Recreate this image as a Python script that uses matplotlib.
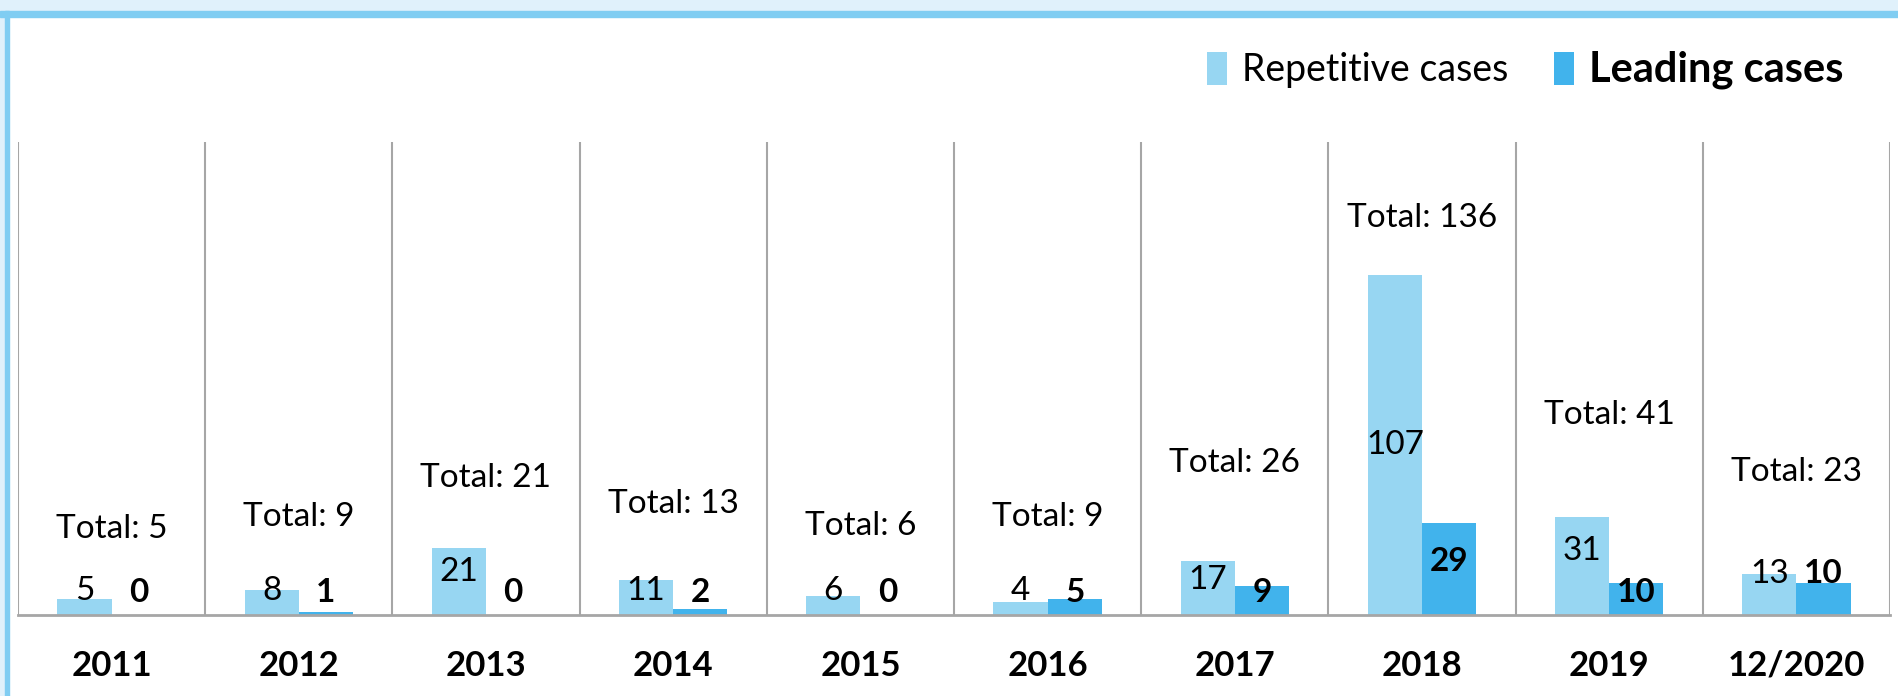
import numpy as np
import matplotlib.pyplot as plt
from matplotlib.patches import Rectangle

plt.rcParams["font.family"] = ["Lato", "DejaVu Sans"]

years = ["2011", "2012", "2013", "2014", "2015", "2016", "2017", "2018", "2019", "12/2020"]
repetitive = [5, 8, 21, 11, 6, 4, 17, 107, 31, 13]
leading = [0, 1, 0, 2, 0, 5, 9, 29, 10, 10]
totals = [5, 9, 21, 13, 6, 9, 26, 136, 41, 23]

c_rep = "#97d6f2"
c_lead = "#41b3ec"
grid_c = "#a6a6a6"
fs = 24

fig = plt.figure(figsize=(18.99, 6.96), dpi=100)
fig.patch.set_facecolor("white")

# frame like the original slide box
fig.patches.append(Rectangle((0, 1 - 11 / 696), 1, 11 / 696, transform=fig.transFigure,
                             color="#e0f1fb", zorder=-2))
fig.patches.append(Rectangle((0, 1 - 17 / 696), 1, 6 / 696, transform=fig.transFigure,
                             color="#80cdf2", zorder=-1))
fig.patches.append(Rectangle((0, 0), 5 / 1899, 1, transform=fig.transFigure,
                             color="#e0f1fb", zorder=-2))
fig.patches.append(Rectangle((5 / 1899, 0), 4 / 1899, 1 - 11 / 696, transform=fig.transFigure,
                             color="#80cdf2", zorder=-1))

ax = fig.add_axes([18 / 1899, 1 - 615 / 696, (1890 - 18) / 1899, (615 - 142) / 696])
x = np.arange(len(years))
w = 0.29
b1 = ax.bar(x - w / 2, repetitive, w, color=c_rep, label="Repetitive cases", zorder=2)
b2 = ax.bar(x + w / 2, leading, w, color=c_lead, label="Leading cases", zorder=2)

ax.set_xlim(-0.5, len(years) - 0.5)
ax.set_ylim(0, 149)
for xv in np.arange(-0.5, len(years), 1.0):
    ax.axvline(xv, color=grid_c, lw=1.5, zorder=1)
for s in ["top", "right", "left"]:
    ax.spines[s].set_visible(False)
ax.spines["bottom"].set_color(grid_c)
ax.spines["bottom"].set_linewidth(2)
ax.set_yticks([])
ax.set_xticks(x)
ax.set_xticklabels(years, fontsize=25, fontweight="bold")
ax.tick_params(axis="x", length=0, pad=25)

for i in range(len(years)):
    r = repetitive[i]
    l = leading[i]
    ry = r / 2 if r > 60 else max(0.65 * r, 7.6)
    ly = max(l - 12, 7)
    if l >= 10 and abs(r - l) < 5:
        # labels of similar bars are lifted above them
        ry = ly = max(r, l)
    ax.text(x[i] - w / 2, ry, str(r), ha="center", va="center", fontsize=fs, zorder=3)
    ax.text(x[i] + w / 2, ly, str(l), ha="center", va="center", fontsize=fs,
            fontweight="bold", zorder=3)
    ty = min(totals[i] + 22, 125)
    ax.text(x[i], ty, "Total: %d" % totals[i], ha="center", va="center", fontsize=fs,
            zorder=3)

leg = fig.legend(handles=[b1, b2], loc="center right", bbox_to_anchor=(0.971, 0.90),
                 ncol=2, frameon=False, fontsize=27, handlelength=0.55, handleheight=1.0,
                 handletextpad=0.4, columnspacing=1.2, borderpad=0, borderaxespad=0)
leg.get_texts()[1].set_fontweight("bold")
leg.get_texts()[1].set_fontsize(30)

fig.savefig("out.png", dpi=100)
plt.close(fig)
